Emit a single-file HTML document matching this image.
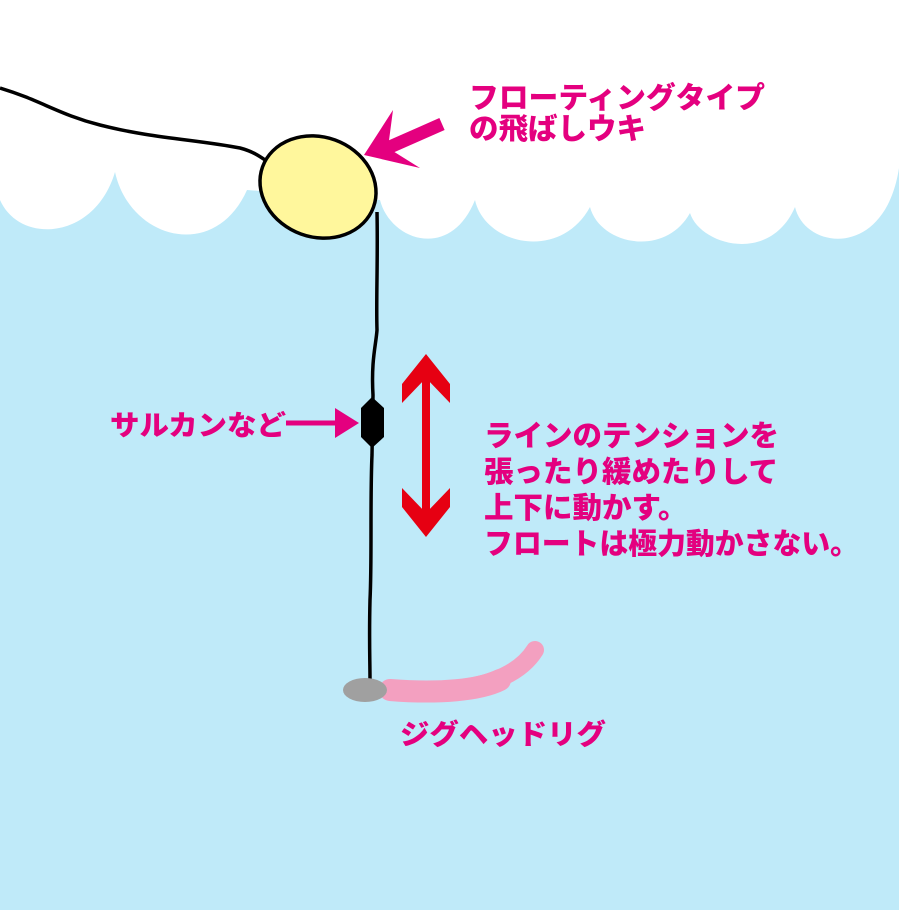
<!DOCTYPE html>
<html><head><meta charset="utf-8"><style>
html,body{margin:0;padding:0;background:#fff}
svg{display:block}
text{font-family:"Liberation Sans","Noto Sans CJK JP",sans-serif;font-weight:900;fill:#e4007f}
</style></head><body>
<svg width="899" height="910" viewBox="0 0 899 910" xmlns="http://www.w3.org/2000/svg">
<rect x="0" y="0" width="899" height="910" fill="#bfeaf9"/>
<path d="M0,0 H899 V168 C885,260 805,250 795,207 C770,265 700,245 690,213 C665,258 600,245 590,207 C560,262 485,245 475,200 C450,262 390,240 380,200 L247,190 C215,262 130,240 115,172 C95,240 20,245 0,200 Z" fill="#fff"/>
<path d="M0,88 C40,100 60,115 100,125 C150,138 200,140 240,148 C255,152 262,158 268,162" fill="none" stroke="#000" stroke-width="3.5"/>
<path d="M377,212 C378,260 376,300 377,330 C376,345 371,360 373,395 L372,455 C370,500 372,560 370,600 C369,640 370,660 370,680" fill="none" stroke="#000" stroke-width="3.5"/>
<ellipse cx="318" cy="187" rx="59" ry="50" transform="rotate(20 318 187)" fill="#fff79c" stroke="#000" stroke-width="3.5"/>
<polygon points="372,397 384,408 384,437 372,448 361,437 361,408" fill="#000"/>
<path d="M286,423 H335" stroke="#e4007f" stroke-width="5"/>
<polygon points="335,408 359,423 335,438" fill="#e4007f"/>
<path d="M383,150 L442,124" stroke="#e4007f" stroke-width="13"/>
<polygon points="364,155 393,110 388,148 420,168" fill="#e4007f"/>
<path d="M426,370 V520" stroke="#e60012" stroke-width="8"/>
<polygon points="426,354 450,384 450,403 426,378 402,403 402,384" fill="#e60012"/>
<polygon points="426,537 450,507 450,488 426,513 402,488 402,507" fill="#e60012"/>
<path d="M390,690 C440,694 510,690 535,650" fill="none" stroke="#f3a0c0" stroke-width="18" stroke-linecap="round"/>
<path d="M390,690 C440,694 480,690 500,680" fill="none" stroke="#f3a0c0" stroke-width="22" stroke-linecap="round"/>
<ellipse cx="365" cy="690" rx="22" ry="12" fill="#a0a0a0"/>
<text x="469" y="108" font-size="29.5" textLength="296" lengthAdjust="spacingAndGlyphs">フローティングタイプ</text>
<text x="469" y="139" font-size="29.5">の飛ばしウキ</text>
<text x="110" y="435" font-size="28" textLength="176" lengthAdjust="spacingAndGlyphs">サルカンなど</text>
<text x="484" y="446" font-size="29.5">ラインのテンションを</text>
<text x="484" y="482" font-size="29.5">張ったり緩めたりして</text>
<text x="484" y="518" font-size="29.5">上下に動かす。</text>
<text x="484" y="554" font-size="29.5" textLength="375" lengthAdjust="spacingAndGlyphs">フロートは極力動かさない。</text>
<text x="400" y="744" font-size="28" textLength="206" lengthAdjust="spacingAndGlyphs">ジグヘッドリグ</text>
</svg>
</body></html>
